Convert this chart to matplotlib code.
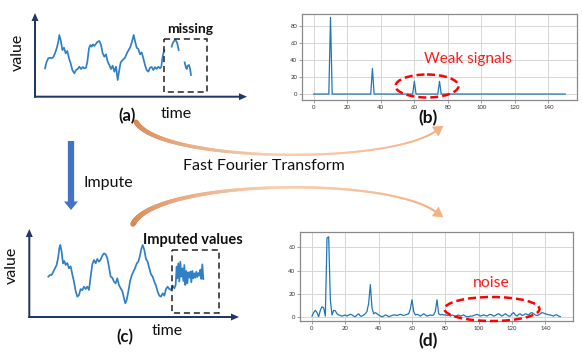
import numpy as np
import matplotlib
matplotlib.use('Agg')
import matplotlib.pyplot as plt
from matplotlib.patches import Rectangle, Ellipse, FancyArrow, Polygon
from matplotlib.collections import LineCollection
from matplotlib.colors import to_rgb

# ---------------- data ----------------
# (a) observed series with missing part (NaN = missing)
time_a = [15, 20, 25, 30, 35, 40, 45, 50, 55, 58, 62, 67, 72, 77, 82, 87, 92, 97, 103, 108,
          113, 118, 123, 128, 133, 138, 142, 147, 151, 155, 159, 163, 168, 173, 178, 183, 188,
          193, 198, 203, 208, 213, 218, 223, 228, 233, 237, 242, 248, 255, 262, 270, 276, 281,
          285, 290, 295, 300, 305, 310, 315, 320, 325, 330, 335, 340, 345, 350, 355, 360, 364,
          367, 370, 373, 384,
          395, 398, 402, 406, 410, 413, 416, 425,
          434, 437, 440, 443, 447, 450, 453]
value_a = [70, 90, 100, 102, 100, 104, 115, 130, 150, 170, 155, 125, 132, 115, 122, 100, 85, 65,
           55, 65, 68, 75, 68, 74, 70, 72, 90, 130, 140, 135, 142, 137, 144, 150, 152, 140, 115,
           105, 112, 90, 80, 68, 78, 60, 75, 35, 60, 88, 95, 102, 118, 132, 150, 170, 152, 132,
           128, 112, 118, 100, 80, 65, 60, 72, 74, 65, 74, 68, 75, 70, 75, 100, 115, 125, np.nan,
           135, 145, 152, 155, 150, 140, 125, np.nan,
           88, 75, 68, 78, 80, 70, 50]

# (c) series with imputed values
time_c = [25, 30, 35, 40, 45, 50, 55, 58, 61, 65, 69, 73, 77, 82, 87, 92, 97, 102, 107, 112,
          117, 122, 127, 132, 137, 142, 147, 152, 157, 162, 167, 172, 177, 182, 187, 192, 197,
          202, 207, 212, 217, 222, 227, 232, 237, 242, 247, 252, 256, 260, 265, 270, 275, 280,
          285, 290, 295, 300, 304, 308, 313, 318, 323, 328, 333, 338, 343, 348, 353, 358, 363,
          368, 373, 378, 383, 388, 393, 398, 403, 407,
          410, 412, 415, 418, 421, 424, 427, 430, 433, 436, 439, 442, 445, 448, 451, 454, 457,
          460, 463, 466, 469, 472, 475, 478, 481, 484, 487, 490]
value_c = [125, 130, 130, 140, 150, 160, 185, 210, 220, 200, 165, 172, 160, 166, 150, 156, 132,
           110, 82, 65, 70, 88, 84, 95, 88, 95, 85, 125, 162, 175, 165, 178, 170, 176, 188, 195,
           192, 180, 155, 125, 122, 110, 105, 120, 100, 90, 82, 60, 45, 55, 80, 110, 128, 140,
           150, 164, 170, 188, 208, 220, 205, 178, 170, 150, 132, 125, 110, 98, 80, 68, 65, 75,
           68, 88, 95, 88, 85, 98, 90, 100,
           155, 120, 165, 110, 170, 125, 150, 112, 160, 100, 142, 105, 138, 122, 140, 108, 142,
           120, 135, 122, 140, 124, 136, 128, 146, 118, 162, 118]

# (b) spectrum of original series
freq_b = np.arange(0, 151)
peak_freqs_b = [10, 35, 60, 75]
peak_amps_b = [90, 30, 15, 15]
amp_b = np.zeros(len(freq_b))
for f, a in zip(peak_freqs_b, peak_amps_b):
    amp_b[f] = a

# (d) spectrum of imputed series
freq_d = np.arange(0, 150)
amp_d = [1, 4, 6, 4, 0.5, 6, 9, 8, 1, 68, 69, 15, 2, 6, 5.5, 3, 2, 1.5, 1, 1.5,
         2, 1, 2, 2.5, 2, 1, 0.5, 2, 3, 1, 1, 2, 3, 5, 12, 28, 8, 3, 4, 3,
         2, 1, 0.5, 1, 2, 1.5, 0.5, 1, 1.5, 2, 2, 1.5, 2, 2.5, 2, 1.5, 2, 2.5, 3, 7,
         15, 5, 2, 2.5, 2, 1, 2, 3, 2, 1, 1.5, 2, 1.5, 2, 5, 15, 3, 2, 2.5, 2,
         2, 1.5, 2, 1, 2, 1.5, 0.5, 1.5, 2, 1, 1.5, 2, 1, 0.5, 0.5, 1, 1, 1.5, 2, 2.5,
         2, 1, 1.5, 2, 1.5, 1, 2, 2.5, 2, 1, 1.5, 2.5, 3, 2, 1, 2, 3, 2, 1, 1,
         3, 4, 2, 1, 2.5, 3, 1.5, 2, 3, 2.5, 2, 3.5, 4, 3, 2, 1.5, 2, 3, 4, 3.5,
         3, 2.5, 2, 2, 1.5, 1, 2, 2, 1, 0.5]

xticks_spec = [0, 20, 40, 60, 80, 100, 120, 140]
yticks_b = [0, 20, 40, 60, 80]
yticks_d = [0, 20, 40, 60]

# ---------------- figure ----------------
W, H = 582, 361
fig = plt.figure(figsize=(W / 100, H / 100), dpi=100)
plt.rcParams['font.family'] = ['Lato', 'DejaVu Sans']


def px_axes(l, t, r, b, **kw):
    return fig.add_axes([l / W, 1 - b / H, (r - l) / W, (b - t) / H], **kw)


LINE = '#2f80c4'
NAVY = '#1f3864'


def style_spec(ax, yt):
    for s in ax.spines.values():
        s.set_color('#8a8a8a')
        s.set_linewidth(0.9)
    ax.grid(True, color='#d6d6d6', lw=0.7)
    ax.set_axisbelow(True)
    ax.set_xticks(xticks_spec)
    ax.set_yticks(yt)
    ax.tick_params(labelsize=4.3, length=2, width=0.5, color='#777777',
                   labelcolor='#333333', pad=1.5)


# (b)
axb = px_axes(302, 14, 577, 100)
axb.plot(freq_b, amp_b, color='#1f77b4', lw=0.9)
axb.set_xlim(-7, 157)
axb.set_ylim(-7, 94)
style_spec(axb, yticks_b)

# (d)
axd = px_axes(300, 232, 573, 321)
axd.plot(freq_d, amp_d, color='#1f77b4', lw=0.9)
axd.set_xlim(-7.2, 156.6)
axd.set_ylim(-3.2, 73.1)
style_spec(axd, yticks_d)

# (a) series
axa = px_axes(35, 13, 247, 96.7)
axa.plot(time_a, value_a, color=LINE, lw=1.25)
axa.set_xlim(-15, 621)
axa.set_ylim(-15, 236)
axa.axis('off')

# (c) series
axc = px_axes(29.3, 229, 239, 317)
axc.plot(time_c, value_c, color=LINE, lw=1.25)
axc.set_xlim(-32, 597)
axc.set_ylim(4, 268)
axc.axis('off')

# overlay for annotations (pixel coordinates)
ov = fig.add_axes([0, 0, 1, 1], zorder=5)
ov.set_xlim(0, W)
ov.set_ylim(H, 0)
ov.axis('off')
ov.patch.set_alpha(0)


def axis_arrows(x0, y0, xtip, ytip):
    ov.add_patch(FancyArrow(x0, y0 + 1, 0, ytip - y0 - 1, width=2, head_width=7, head_length=8,
                            length_includes_head=True, color=NAVY, lw=0))
    ov.add_patch(FancyArrow(x0 - 1, y0, xtip - x0 + 1, 0, width=2, head_width=7, head_length=8,
                            length_includes_head=True, color=NAVY, lw=0))


axis_arrows(35, 96.7, 247, 13)
axis_arrows(29.3, 317, 239, 229)

# dashed boxes
ov.add_patch(Rectangle((164, 39), 43, 53, fill=False, ec='#222222', lw=1.1, ls=(0, (4, 2.5))))
ov.add_patch(Rectangle((172, 250), 47, 63, fill=False, ec='#222222', lw=1.1, ls=(0, (4, 2.5))))

# texts
TXT = '#111111'
ov.text(18, 52, 'value', rotation=90, ha='center', va='center', fontsize=11.5, color=TXT)
ov.text(12, 265, 'value', rotation=90, ha='center', va='center', fontsize=11.5, color=TXT)
ov.text(176, 114, 'time', ha='center', va='center', fontsize=11.5, color=TXT)
ov.text(167, 331, 'time', ha='center', va='center', fontsize=11.5, color=TXT)
ov.text(190, 29, 'missing', ha='center', va='center', fontsize=10, fontweight='bold', color=TXT)
ov.text(193, 240, 'Imputed values', ha='center', va='center', fontsize=10.5, fontweight='bold', color=TXT)
ov.text(127, 116, '(a)', ha='center', va='center', fontsize=12, fontweight='bold', color=TXT)
ov.text(428, 118, '(b)', ha='center', va='center', fontsize=12.5, fontweight='bold', color=TXT)
ov.text(125, 337, '(c)', ha='center', va='center', fontsize=12, fontweight='bold', color=TXT)
ov.text(428, 341, '(d)', ha='center', va='center', fontsize=12.5, fontweight='bold', color=TXT)
ov.text(264, 166, 'Fast Fourier Transform', ha='center', va='center', fontsize=11.5, color=TXT)
ov.text(108, 183, 'Impute', ha='center', va='center', fontsize=11.5, color=TXT)
ov.text(468, 59, 'Weak signals', ha='center', va='center', fontsize=11, color='#ff1a1a')
ov.text(491, 283, 'noise', ha='center', va='center', fontsize=11.3, color='#ff1a1a')

# red dashed ellipses
ov.add_patch(Ellipse((427, 86), 63, 23, fill=False, ec='#ff0000', lw=1.8, ls=(0, (3.2, 1.6))))
ov.add_patch(Ellipse((492, 309), 95, 24, fill=False, ec='#ff0000', lw=1.8, ls=(0, (3.2, 1.6))))

# blue impute arrow
ov.add_patch(FancyArrow(71, 141, 0, 69, width=6.3, head_width=14, head_length=8.5,
                        length_includes_head=True, color='#4472c4', lw=0))


# orange curved arrows
def curved_arrow(P, w0, w1):
    P = np.array(P, dtype=float)
    t = np.linspace(0, 1, 160)[:, None]
    pts = ((1 - t) ** 3 * P[0] + 3 * (1 - t) ** 2 * t * P[1]
           + 3 * (1 - t) * t ** 2 * P[2] + t ** 3 * P[3])
    tt = t.ravel()
    segs = np.stack([pts[:-1], pts[1:]], axis=1)
    tm = 0.5 * (tt[:-1] + tt[1:])
    widths = (w1 + (w0 - w1) * (1 - tm) ** 2.2) * 0.72
    c0, c1, c2 = np.array(to_rgb('#d88752')), np.array(to_rgb('#f8cfb2')), np.array(to_rgb('#f4b183'))
    cols = []
    for v in tm:
        if v < 0.5:
            cols.append(c0 + (c1 - c0) * (v / 0.5))
        else:
            cols.append(c1 + (c2 - c1) * ((v - 0.5) / 0.5))
    ov.add_collection(LineCollection(segs, linewidths=widths, colors=cols, capstyle='round'))
    d = P[3] - P[2]
    u = d / np.hypot(*d)
    n = np.array([-u[1], u[0]])
    tip = P[3] + 9 * u
    base = P[3] - 1 * u
    ov.add_patch(Polygon([tip, base + 6 * n, base - 6 * n], closed=True, fc='#f4b183', ec='none'))


curved_arrow([(136, 122), (160, 162), (385, 166), (436, 131)], 5, 1.8)
curved_arrow([(133, 224), (155, 180), (385, 175), (436, 212)], 5.5, 2.0)

fig.savefig('out.png', dpi=100)
